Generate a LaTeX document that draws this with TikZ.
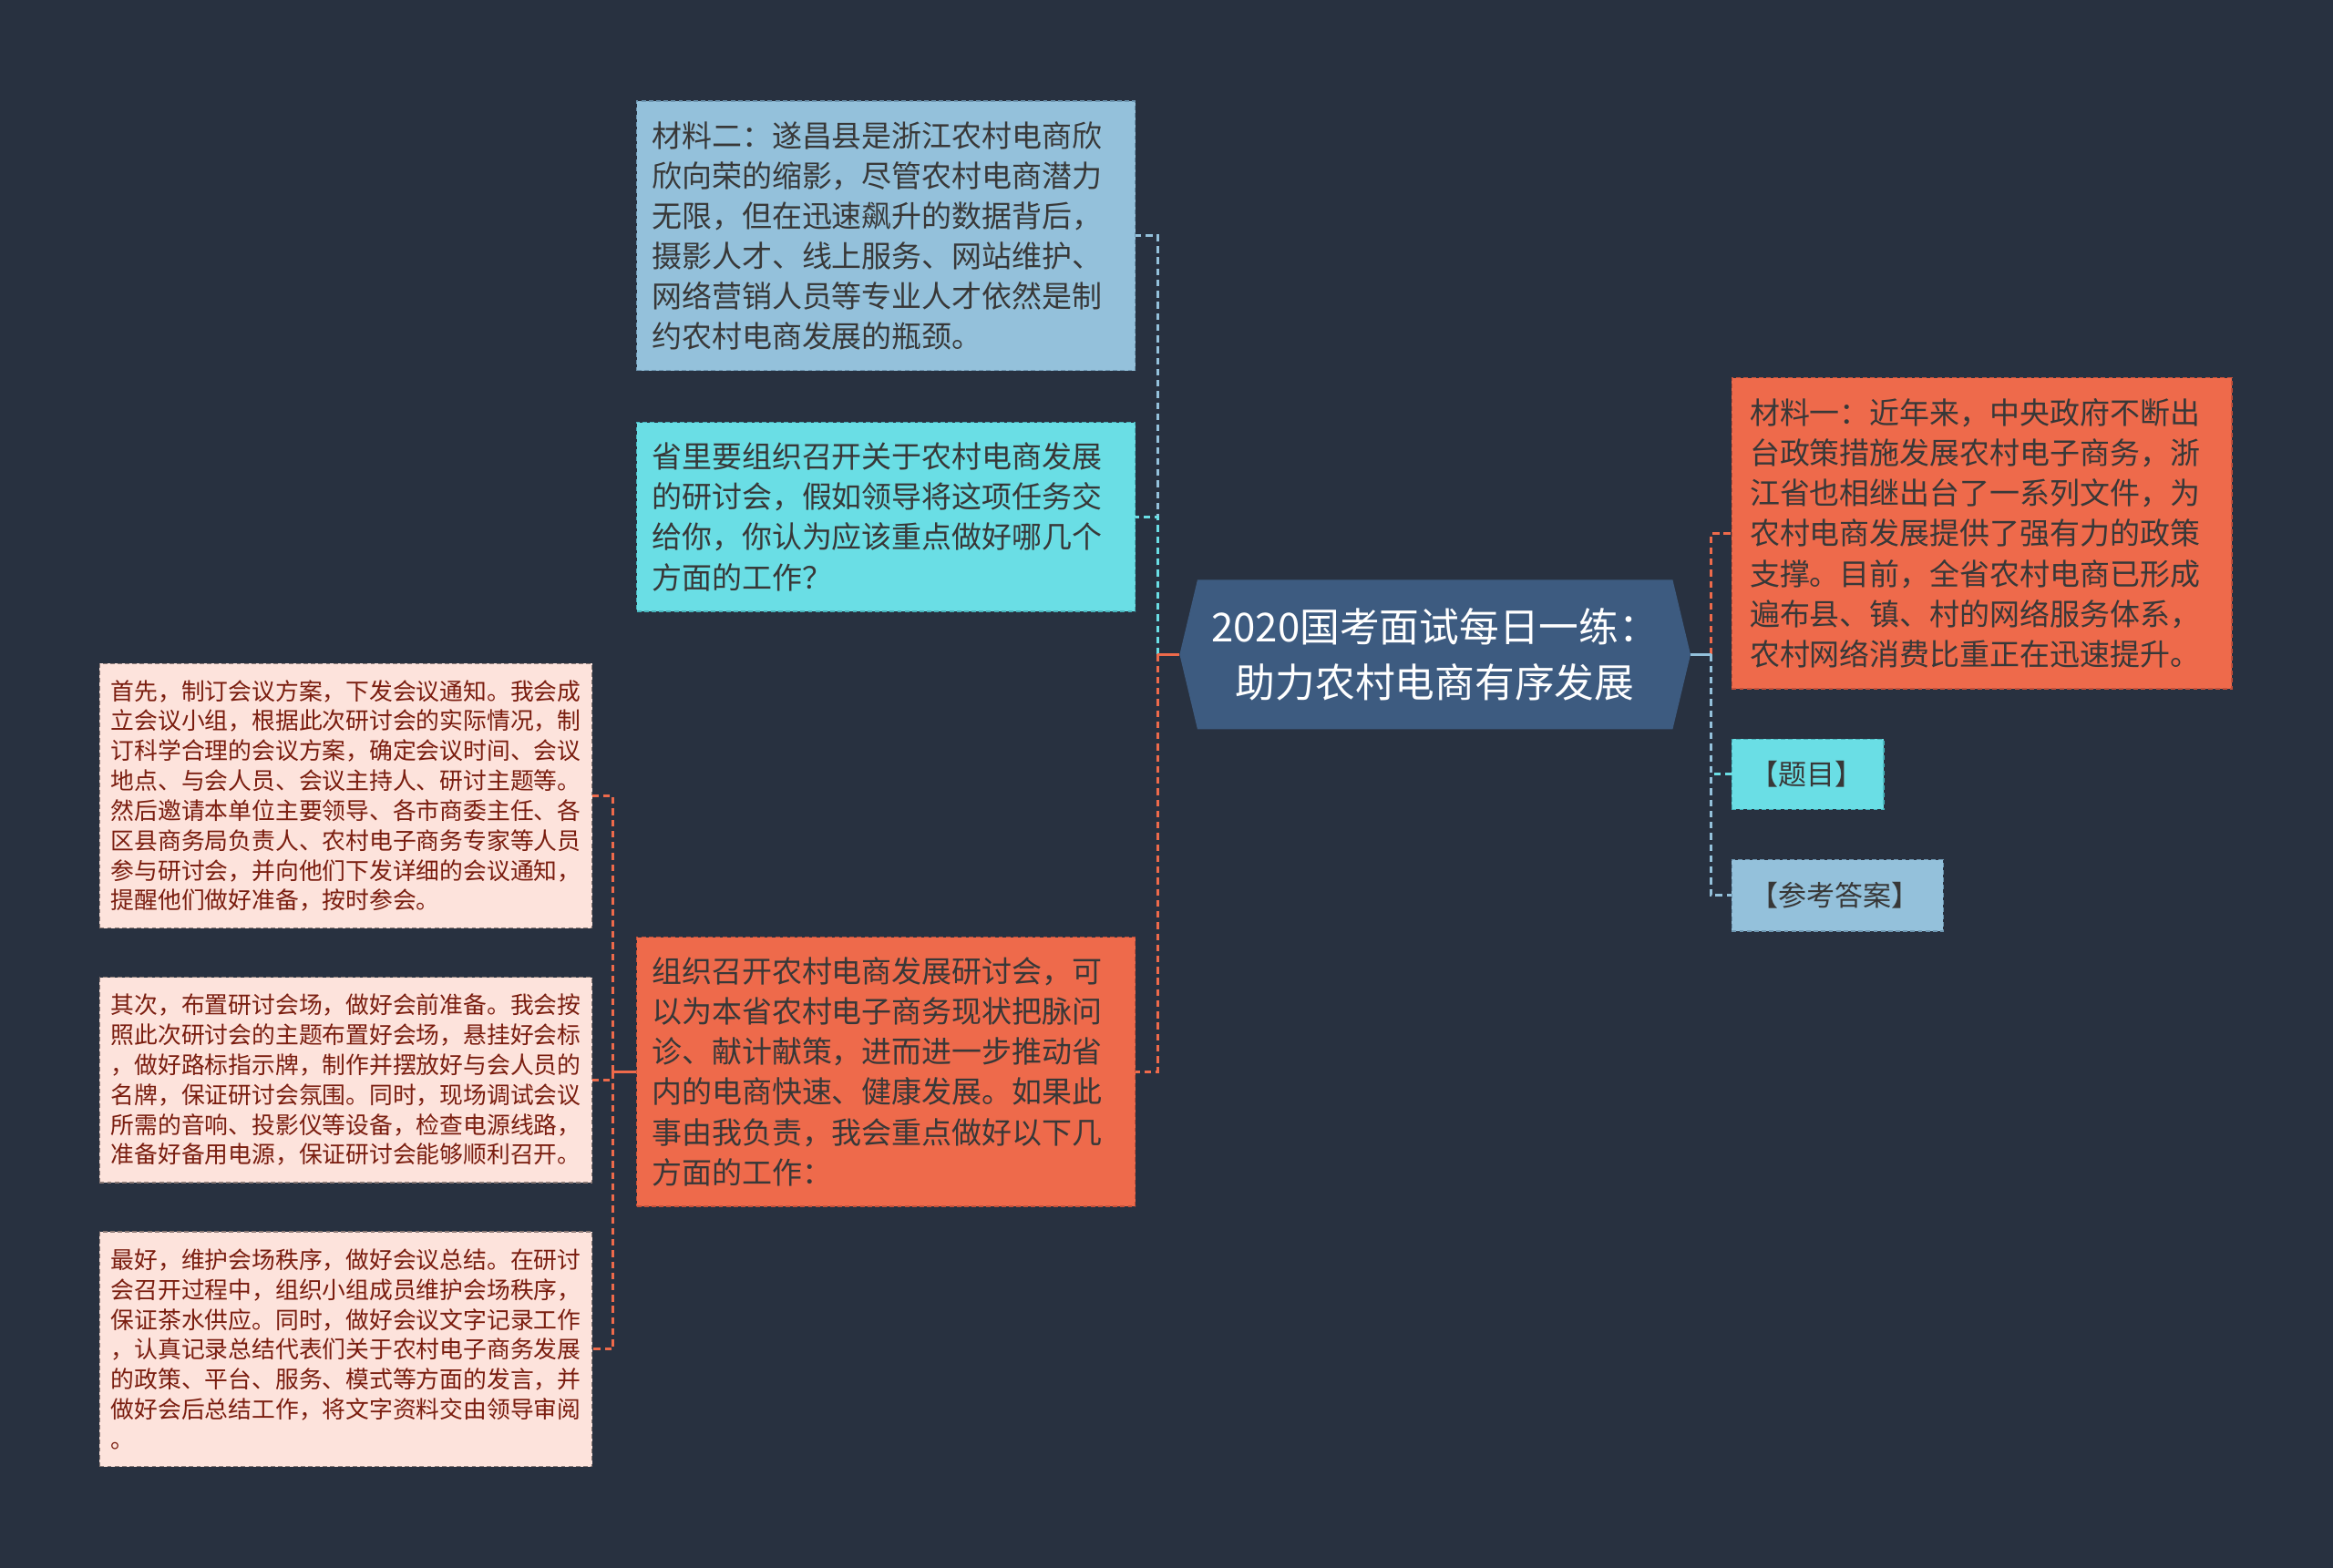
\documentclass[tikz,border=0pt]{standalone}
\usepackage{fontspec}
\setmainfont{Noto Sans CJK SC}
\usetikzlibrary{backgrounds}
\definecolor{bg}{HTML}{283140}
\definecolor{rootc}{HTML}{3D5B80}
\definecolor{lblue}{HTML}{94C1DB}
\definecolor{lblueb}{HTML}{6E97B2}
\definecolor{cyanc}{HTML}{6ADEE5}
\definecolor{cyanb}{HTML}{48B4BC}
\definecolor{orangec}{HTML}{EE6A4B}
\definecolor{orangeb}{HTML}{C4503A}
\definecolor{pale}{HTML}{FDE3DC}
\definecolor{paleb}{HTML}{8C7B77}
\definecolor{txt}{HTML}{383838}
\definecolor{dred}{HTML}{7A1D0F}
\tikzset{
  box/.style={draw, line width=0.8pt, dash pattern=on 3pt off 2pt, align=left, inner ysep=0pt, anchor=center},
  big/.style={box, font=\fontsize{20.2}{27}\selectfont, text=txt, inner xsep=10pt},
  tag/.style={box, font=\fontsize{19}{24}\selectfont, text=txt, inner xsep=12pt},
  small/.style={box, font=\fontsize{15.8}{20.1}\selectfont, text=dred, inner xsep=7.5pt, fill=pale, draw=paleb},
  conn/.style={line width=1.8pt, dash pattern=on 4.5pt off 3pt},
  solidconn/.style={line width=1.8pt}
}
\begin{document}
\begin{tikzpicture}[x=1pt,y=-1pt]
\useasboundingbox (0,0) rectangle (1568,1054);
\begin{scope}[on background layer]
\fill[bg] (0,0) rectangle (1568,1054);
\end{scope}

% root
\node[minimum width=343pt, minimum height=100pt, inner sep=0pt, align=center, text=white,
      font=\fontsize{26.8}{37}\selectfont] (root) at (964.5,440)
  {2020国考面试每日一练：\\助力农村电商有序发展};
\begin{scope}[on background layer]
\fill[rootc] (root.west) -- ([xshift=12pt]root.north west) -- ([xshift=-12pt]root.north east)
  -- (root.east) -- ([xshift=-12pt]root.south east) -- ([xshift=12pt]root.south west) -- cycle;
\end{scope}

% left upper boxes
\node[big, fill=lblue, draw=lblueb, minimum width=335pt, minimum height=181pt, text width=315pt] (m2) at (595.5,158.5)
  {材料二：遂昌县是浙江农村电商欣\\欣向荣的缩影，尽管农村电商潜力\\无限，但在迅速飙升的数据背后，\\摄影人才、线上服务、网站维护、\\网络营销人员等专业人才依然是制\\约农村电商发展的瓶颈。};
\node[big, fill=cyanc, draw=cyanb, minimum width=335pt, minimum height=127pt, text width=315pt] (q) at (595.5,347.5)
  {省里要组织召开关于农村电商发展\\的研讨会，假如领导将这项任务交\\给你，你认为应该重点做好哪几个\\方面的工作？};
\node[big, fill=orangec, draw=orangeb, minimum width=335pt, minimum height=181pt, text width=315pt] (org) at (595.5,720.5)
  {组织召开农村电商发展研讨会，可\\以为本省农村电子商务现状把脉问\\诊、献计献策，进而进一步推动省\\内的电商快速、健康发展。如果此\\事由我负责，我会重点做好以下几\\方面的工作：};

% small boxes
\node[small, minimum width=331pt, minimum height=178pt, text width=316pt] (s1) at (232.5,535)
  {首先，制订会议方案，下发会议通知。我会成\\立会议小组，根据此次研讨会的实际情况，制\\订科学合理的会议方案，确定会议时间、会议\\地点、与会人员、会议主持人、研讨主题等。\\然后邀请本单位主要领导、各市商委主任、各\\区县商务局负责人、农村电子商务专家等人员\\参与研讨会，并向他们下发详细的会议通知，\\提醒他们做好准备，按时参会。};
\node[small, minimum width=331pt, minimum height=138pt, text width=316pt] (s2) at (232.5,726)
  {其次，布置研讨会场，做好会前准备。我会按\\照此次研讨会的主题布置好会场，悬挂好会标\\，做好路标指示牌，制作并摆放好与会人员的\\名牌，保证研讨会氛围。同时，现场调试会议\\所需的音响、投影仪等设备，检查电源线路，\\准备好备用电源，保证研讨会能够顺利召开。};
\node[small, minimum width=331pt, minimum height=158pt, text width=316pt] (s3) at (232.5,907)
  {最好，维护会场秩序，做好会议总结。在研讨\\会召开过程中，组织小组成员维护会场秩序，\\保证茶水供应。同时，做好会议文字记录工作\\，认真记录总结代表们关于农村电子商务发展\\的政策、平台、服务、模式等方面的发言，并\\做好会后总结工作，将文字资料交由领导审阅\\。};

% right boxes
\node[big, fill=orangec, draw=orangeb, minimum width=336pt, minimum height=209pt, text width=312pt, inner xsep=12pt] (m1) at (1332,358.5)
  {材料一：近年来，中央政府不断出\\台政策措施发展农村电子商务，浙\\江省也相继出台了一系列文件，为\\农村电商发展提供了强有力的政策\\支撑。目前，全省农村电商已形成\\遍布县、镇、村的网络服务体系，\\农村网络消费比重正在迅速提升。};
\node[tag, fill=cyanc, draw=cyanb, minimum width=102pt, minimum height=47pt, text width=78pt] (t) at (1215,520.5) {【题目】};
\node[tag, fill=lblue, draw=lblueb, minimum width=142pt, minimum height=48pt, text width=118pt] (a) at (1235,602) {【参考答案】};

% junction points
\coordinate (lj) at (778,440);
\coordinate (rj) at (1150,440);
\coordinate (oj) at (412,720.5);

% left connectors
\draw[conn, lblue] (lj) |- (m2.east);
\draw[conn, cyanc] (lj) |- (q.east);
\draw[conn, orangec] (lj) |- (org.east);
\draw[solidconn, orangec] (root.west) -- (lj);

% right connectors
\draw[conn, orangec] (rj) |- (m1.west);
\draw[conn, cyanc] (rj) |- (t.west);
\draw[conn, lblue] (rj) |- (a.west);
\draw[solidconn, lblue] (root.east) -- (rj);

% org children
\draw[solidconn, orangec] (org.west) -- (oj);
\draw[conn, orangec] (oj) |- (s1.east);
\draw[conn, orangec] (oj) |- (s2.east);
\draw[conn, orangec] (oj) |- (s3.east);
\end{tikzpicture}
\end{document}
